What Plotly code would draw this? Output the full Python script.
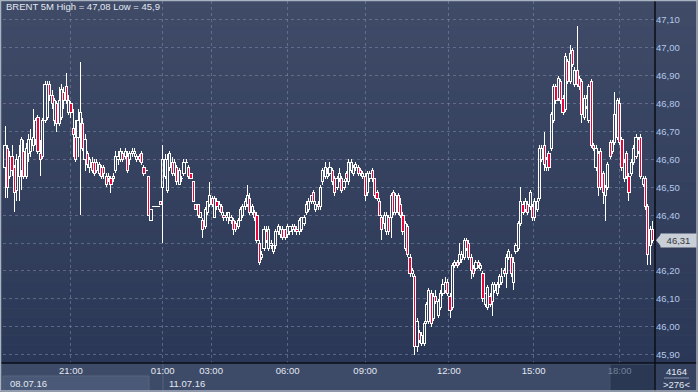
import plotly.graph_objects as go

# ---------------- data ----------------
open_ = [
    46.57, 46.64, 46.54, 46.61, 46.57, 46.49, 46.54, 46.56, 46.63, 46.54,
    46.62, 46.63, 46.65, 46.67, 46.75, 46.62, 46.61, 46.74, 46.75, 46.87,
    46.83, 46.74, 46.80, 46.73, 46.75, 46.84, 46.86, 46.77, 46.80, 46.71,
    46.68, 46.68, 46.73, 46.73, 46.60, 46.62, 46.57, 46.59, 46.59, 46.56,
    46.55, 46.57, 46.57, 46.54, 46.53, 46.53, 46.53, 46.56, 46.60, 46.60,
    46.62, 46.61, 46.61, 46.60, 46.62, 46.62, 46.60, 46.61, 46.62, 46.57,
    46.56, 46.54, 46.38, 46.43, 46.43, 46.43, 46.45, 46.50, 46.54, 46.49,
    46.57, 46.59, 46.55, 46.57, 46.51, 46.53, 46.55, 46.59, 46.57, 46.55,
    46.52, 46.44, 46.44, 46.39, 46.38, 46.36, 46.41, 46.44, 46.46, 46.39,
    46.45, 46.42, 46.43, 46.40, 46.39, 46.39, 46.38, 46.38, 46.37, 46.36,
    46.38, 46.40, 46.43, 46.44, 46.46, 46.41, 46.41, 46.40, 46.30, 46.25,
    46.28, 46.34, 46.28, 46.29, 46.27, 46.29, 46.34, 46.33, 46.35, 46.35,
    46.33, 46.34, 46.35, 46.36, 46.35, 46.34, 46.35, 46.37, 46.41, 46.42,
    46.45, 46.48, 46.42, 46.44, 46.43, 46.52, 46.54, 46.54, 46.55, 46.56,
    46.53, 46.50, 46.53, 46.53, 46.50, 46.55, 46.52, 46.56, 46.55, 46.57,
    46.57, 46.56, 46.54, 46.54, 46.48, 46.53, 46.56, 46.53, 46.48, 46.45,
    46.39, 46.37, 46.34, 46.39, 46.39, 46.48, 46.41, 46.47, 46.44, 46.40,
    46.28, 46.36, 46.25, 46.19, 46.18, 45.93, 45.98, 45.94, 45.94, 46.02,
    46.02, 46.12, 46.03, 46.11, 46.04, 46.07, 46.12, 46.13, 46.16, 46.11,
    46.07, 46.22, 46.23, 46.23, 46.24, 46.25, 46.31, 46.30, 46.25, 46.21,
    46.21, 46.23, 46.21, 46.19, 46.08, 46.07, 46.11, 46.09, 46.13, 46.12,
    46.15, 46.16, 46.20, 46.19, 46.25, 46.25, 46.16, 46.27, 46.28, 46.37,
    46.44, 46.42, 46.44, 46.43, 46.43, 46.39, 46.42, 46.46, 46.60, 46.65,
    46.57, 46.62, 46.64, 46.74, 46.86, 46.82, 46.88, 46.82, 46.78, 46.95,
    46.88, 46.99, 46.87, 46.92, 46.89, 46.88, 46.75, 46.79, 46.74, 46.88,
    46.65, 46.57, 46.62, 46.63, 46.55, 46.47, 46.50, 46.66, 46.63, 46.66,
    46.68, 46.80, 46.67, 46.53, 46.62, 46.54, 46.55, 46.59, 46.61, 46.67,
    46.68, 46.51, 46.53, 46.43, 46.29, 46.35,
]
high = [
    46.72, 46.65, 46.63, 46.65, 46.58, 46.62, 46.65, 46.68, 46.67, 46.66,
    46.69, 46.71, 46.78, 46.75, 46.76, 46.67, 46.75, 46.88, 46.88, 46.88,
    46.85, 46.82, 46.81, 46.86, 46.87, 46.86, 46.91, 46.83, 46.81, 46.78,
    46.74, 46.78, 46.95, 46.75, 46.69, 46.63, 46.61, 46.61, 46.60, 46.60,
    46.59, 46.58, 46.58, 46.55, 46.55, 46.54, 46.55, 46.63, 46.63, 46.64,
    46.63, 46.64, 46.63, 46.63, 46.64, 46.64, 46.62, 46.62, 46.63, 46.58,
    46.56, 46.54, 46.42, 46.43, 46.43, 46.43, 46.45, 46.65, 46.62, 46.62,
    46.63, 46.61, 46.60, 46.58, 46.57, 46.54, 46.60, 46.60, 46.58, 46.55,
    46.52, 46.44, 46.44, 46.41, 46.39, 46.43, 46.45, 46.52, 46.47, 46.47,
    46.46, 46.45, 46.44, 46.41, 46.41, 46.41, 46.40, 46.39, 46.38, 46.39,
    46.43, 46.44, 46.46, 46.51, 46.48, 46.44, 46.42, 46.41, 46.31, 46.27,
    46.36, 46.36, 46.36, 46.31, 46.29, 46.35, 46.37, 46.36, 46.36, 46.35,
    46.37, 46.36, 46.37, 46.37, 46.36, 46.39, 46.39, 46.40, 46.45, 46.46,
    46.47, 46.49, 46.45, 46.45, 46.51, 46.57, 46.59, 46.57, 46.59, 46.57,
    46.54, 46.54, 46.57, 46.54, 46.53, 46.56, 46.60, 46.60, 46.58, 46.59,
    46.58, 46.57, 46.56, 46.55, 46.56, 46.56, 46.57, 46.53, 46.49, 46.46,
    46.40, 46.41, 46.41, 46.40, 46.48, 46.49, 46.48, 46.48, 46.46, 46.41,
    46.38, 46.37, 46.26, 46.21, 46.19, 46.03, 45.99, 45.98, 46.02, 46.09,
    46.14, 46.13, 46.12, 46.13, 46.10, 46.13, 46.17, 46.18, 46.17, 46.12,
    46.23, 46.24, 46.24, 46.30, 46.27, 46.32, 46.32, 46.31, 46.26, 46.22,
    46.24, 46.24, 46.23, 46.20, 46.12, 46.15, 46.12, 46.16, 46.16, 46.16,
    46.19, 46.21, 46.21, 46.26, 46.28, 46.26, 46.25, 46.30, 46.38, 46.50,
    46.45, 46.46, 46.45, 46.49, 46.44, 46.46, 46.46, 46.65, 46.65, 46.70,
    46.61, 46.63, 46.77, 46.87, 46.87, 46.90, 46.89, 46.83, 46.98, 46.96,
    47.01, 47.00, 46.93, 47.08, 46.90, 46.89, 46.83, 46.83, 46.87, 46.89,
    46.66, 46.65, 46.63, 46.64, 46.56, 46.51, 46.59, 46.67, 46.67, 46.84,
    46.82, 46.82, 46.68, 46.60, 46.63, 46.55, 46.60, 46.65, 46.69, 46.68,
    46.69, 46.54, 46.54, 46.44, 46.36, 46.38,
]
low = [
    46.46, 46.46, 46.53, 46.54, 46.41, 46.45, 46.45, 46.49, 46.53, 46.53,
    46.59, 46.61, 46.63, 46.65, 46.62, 46.54, 46.60, 46.73, 46.74, 46.81,
    46.78, 46.72, 46.70, 46.72, 46.74, 46.78, 46.80, 46.76, 46.75, 46.61,
    46.59, 46.61, 46.40, 46.63, 46.56, 46.57, 46.55, 46.55, 46.54, 46.55,
    46.54, 46.53, 46.53, 46.50, 46.52, 46.48, 46.52, 46.55, 46.58, 46.59,
    46.59, 46.60, 46.55, 46.58, 46.61, 46.61, 46.59, 46.59, 46.58, 46.54,
    46.56, 46.40, 46.38, 46.43, 46.43, 46.43, 46.44, 46.30, 46.53, 46.48,
    46.56, 46.54, 46.54, 46.51, 46.51, 46.52, 46.54, 46.59, 46.53, 46.53,
    46.45, 46.42, 46.39, 46.39, 46.32, 46.35, 46.40, 46.43, 46.43, 46.39,
    46.42, 46.41, 46.40, 46.38, 46.38, 46.37, 46.37, 46.33, 46.34, 46.35,
    46.38, 46.39, 46.42, 46.43, 46.40, 46.40, 46.38, 46.30, 46.22, 46.24,
    46.27, 46.30, 46.27, 46.28, 46.26, 46.28, 46.33, 46.32, 46.31, 46.31,
    46.32, 46.33, 46.33, 46.34, 46.33, 46.33, 46.34, 46.36, 46.40, 46.41,
    46.44, 46.44, 46.41, 46.42, 46.42, 46.51, 46.53, 46.53, 46.54, 46.51,
    46.47, 46.49, 46.52, 46.48, 46.49, 46.52, 46.51, 46.55, 46.54, 46.56,
    46.54, 46.54, 46.53, 46.45, 46.47, 46.52, 46.52, 46.46, 46.45, 46.40,
    46.31, 46.35, 46.33, 46.33, 46.32, 46.40, 46.40, 46.40, 46.39, 46.33,
    46.27, 46.25, 46.18, 46.18, 45.90, 45.91, 45.94, 45.93, 45.93, 46.01,
    46.01, 46.00, 46.02, 46.08, 46.03, 46.06, 46.11, 46.12, 46.11, 46.03,
    46.06, 46.21, 46.21, 46.22, 46.23, 46.24, 46.27, 46.24, 46.17, 46.18,
    46.20, 46.21, 46.20, 46.09, 46.07, 46.06, 46.07, 46.04, 46.12, 46.11,
    46.14, 46.15, 46.18, 46.14, 46.24, 46.18, 46.13, 46.26, 46.27, 46.36,
    46.40, 46.41, 46.40, 46.42, 46.38, 46.38, 46.41, 46.45, 46.59, 46.56,
    46.56, 46.56, 46.63, 46.73, 46.80, 46.81, 46.80, 46.76, 46.77, 46.87,
    46.87, 46.93, 46.86, 46.86, 46.85, 46.73, 46.74, 46.78, 46.73, 46.64,
    46.63, 46.56, 46.47, 46.49, 46.44, 46.38, 46.49, 46.60, 46.62, 46.65,
    46.67, 46.65, 46.56, 46.52, 46.53, 46.45, 46.54, 46.58, 46.60, 46.62,
    46.53, 46.50, 46.42, 46.22, 46.22, 46.30,
]
close = [
    46.65, 46.50, 46.61, 46.56, 46.48, 46.60, 46.61, 46.67, 46.54, 46.64,
    46.67, 46.67, 46.68, 46.74, 46.63, 46.60, 46.74, 46.87, 46.87, 46.83,
    46.80, 46.81, 46.73, 46.81, 46.85, 46.81, 46.81, 46.81, 46.77, 46.69,
    46.60, 46.74, 46.77, 46.64, 46.67, 46.58, 46.60, 46.56, 46.55, 46.59,
    46.58, 46.54, 46.55, 46.51, 46.54, 46.51, 46.54, 46.61, 46.61, 46.63,
    46.60, 46.63, 46.56, 46.62, 46.63, 46.63, 46.61, 46.60, 46.59, 46.55,
    46.56, 46.40, 46.42, 46.43, 46.43, 46.43, 46.44, 46.60, 46.60, 46.60,
    46.62, 46.55, 46.59, 46.52, 46.56, 46.53, 46.59, 46.59, 46.54, 46.53,
    46.45, 46.42, 46.40, 46.41, 46.35, 46.42, 46.45, 46.47, 46.44, 46.46,
    46.43, 46.44, 46.41, 46.39, 46.40, 46.41, 46.39, 46.35, 46.35, 46.38,
    46.42, 46.43, 46.45, 46.47, 46.41, 46.43, 46.39, 46.31, 46.23, 46.26,
    46.35, 46.31, 46.35, 46.30, 46.29, 46.34, 46.36, 46.35, 46.32, 46.32,
    46.36, 46.36, 46.36, 46.35, 46.34, 46.38, 46.39, 46.39, 46.44, 46.45,
    46.47, 46.45, 46.44, 46.43, 46.50, 46.56, 46.57, 46.55, 46.57, 46.52,
    46.48, 46.53, 46.55, 46.49, 46.52, 46.53, 46.59, 46.59, 46.57, 46.58,
    46.55, 46.55, 46.55, 46.47, 46.55, 46.55, 46.53, 46.47, 46.46, 46.40,
    46.35, 46.40, 46.40, 46.34, 46.47, 46.41, 46.47, 46.41, 46.40, 46.34,
    46.37, 46.26, 46.19, 46.20, 45.93, 46.02, 45.95, 45.97, 46.01, 46.08,
    46.13, 46.01, 46.11, 46.09, 46.09, 46.12, 46.15, 46.16, 46.12, 46.06,
    46.22, 46.23, 46.22, 46.26, 46.26, 46.31, 46.28, 46.25, 46.20, 46.19,
    46.23, 46.22, 46.22, 46.10, 46.12, 46.14, 46.08, 46.15, 46.15, 46.15,
    46.18, 46.18, 46.19, 46.25, 46.27, 46.19, 46.23, 46.29, 46.37, 46.45,
    46.41, 46.45, 46.41, 46.48, 46.39, 46.45, 46.45, 46.64, 46.64, 46.58,
    46.60, 46.57, 46.76, 46.86, 46.81, 46.89, 46.81, 46.77, 46.97, 46.88,
    46.98, 46.94, 46.92, 46.87, 46.86, 46.76, 46.82, 46.82, 46.86, 46.65,
    46.64, 46.64, 46.50, 46.50, 46.48, 46.50, 46.58, 46.61, 46.66, 46.76,
    46.81, 46.66, 46.57, 46.59, 46.54, 46.48, 46.59, 46.64, 46.68, 46.63,
    46.54, 46.53, 46.43, 46.26, 46.35, 46.31,
]

# bar index where each time label sits, and the labels themselves
time_tick_bars = [28, 67, 87.5, 120, 153, 188.5, 224.5, 261]
time_tick_labels = ["21:00", "01:00", "03:00", "06:00", "09:00", "12:00", "15:00", "18:00"]
price_ticks = [45.9, 46.0, 46.1, 46.2, 46.3, 46.4, 46.5, 46.6, 46.7, 46.8, 46.9, 47.0, 47.1]
date_labels = ["08.07.16", "11.07.16"]
symbol = "BRENT 5M"
counter_top = "4164"
counter_bottom = ">276<"

# ---------------- layout helpers ----------------
W, H = 698, 392
ML, MR, MT, MB = 3, 43, 1, 29
PW, PH = W - ML - MR, H - MT - MB
Y0, Y1 = 45.870, 47.168
UP_FILL = "rgba(0,0,0,0)"
DOWN_FILL = "#e6053d"
EDGE = "#ffffff"
FS = 9.5


def px_x(px):
    return (px - ML) / PW


def px_y(py):
    return (H - MB - py) / PH


def fmt(v, nd=None):
    s = f"{v:.{nd}f}" if nd is not None else f"{v:g}"
    return s.replace(".", ",")


n = len(close)
xs = list(range(n))
last = close[-1]

# candle bodies (bars from min(open, close) to max(open, close)) and wicks
min_body = 0.0004  # keeps doji bodies visible as a flat dash
body_base = [min(o, c) for o, c in zip(open_, close)]
body_len = [max(abs(c - o), min_body) for o, c in zip(open_, close)]
body_fill = [DOWN_FILL if c < o else UP_FILL for o, c in zip(open_, close)]
wick_x, wick_y = [], []
for i, (o, h, l, c) in enumerate(zip(open_, high, low, close)):
    top, bot = max(o, c), min(o, c)
    if h > top:
        wick_x += [i, i, None]
        wick_y += [top, h, None]
    if l < bot:
        wick_x += [i, i, None]
        wick_y += [l, bot, None]

fig = go.Figure()
fig.add_trace(go.Bar(
    x=xs, base=body_base, y=body_len, width=0.92,
    marker=dict(color=body_fill, line=dict(color=EDGE, width=1)),
    hoverinfo="skip", showlegend=False,
))
fig.add_trace(go.Scatter(
    x=wick_x, y=wick_y, mode="lines", line=dict(color=EDGE, width=1),
    hoverinfo="skip", showlegend=False, connectgaps=False,
))

shapes = []
# vertical gradient background (plot + price-axis area)
NB = 40
top_c = (63, 75, 103)
bot_c = (42, 55, 86)
for k in range(NB):
    y0p = (H - MB) * k / NB
    y1p = (H - MB) * (k + 1) / NB
    t = (k + 0.5) / NB
    c = tuple(round(top_c[j] + (bot_c[j] - top_c[j]) * t) for j in range(3))
    shapes.append(dict(type="rect", xref="paper", yref="paper",
                       x0=px_x(0), x1=px_x(W), y0=px_y(y1p), y1=px_y(y0p) + 0.0001,
                       fillcolor=f"rgb{c}", line=dict(width=0), layer="below"))
# dark box under the last time label
shapes.append(dict(type="rect", xref="paper", yref="paper",
                   x0=px_x(610), x1=px_x(655), y0=px_y(392), y1=px_y(364),
                   fillcolor="#2b3853", line=dict(color="#45536e", width=1), layer="below"))
# date box
shapes.append(dict(type="rect", xref="paper", yref="paper",
                   x0=px_x(3), x1=px_x(149), y0=px_y(391), y1=px_y(376),
                   fillcolor="#4a5977", line=dict(color="#56657f", width=1), layer="below"))
# day separator in the time strip
shapes.append(dict(type="line", xref="paper", yref="paper",
                   x0=px_x(163), x1=px_x(163), y0=px_y(392), y1=px_y(364),
                   line=dict(color="#56657f", width=1), layer="below"))
# price-axis lower-right box
shapes.append(dict(type="rect", xref="paper", yref="paper",
                   x0=px_x(656), x1=px_x(698), y0=px_y(392), y1=px_y(364),
                   fillcolor="#34415f", line=dict(width=0), layer="below"))
shapes.append(dict(type="line", xref="paper", yref="paper",
                   x0=px_x(664), x1=px_x(689), y0=px_y(378), y1=px_y(378),
                   line=dict(color="#8d9ab2", width=1)))
# black separators
shapes.append(dict(type="line", xref="paper", yref="paper",
                   x0=px_x(0), x1=px_x(W), y0=0, y1=0,
                   line=dict(color="#0a0e16", width=1.5)))
shapes.append(dict(type="line", xref="paper", yref="paper",
                   x0=1, x1=1, y0=px_y(H), y1=px_y(0),
                   line=dict(color="#0a0e16", width=1.5)))
# outer frame
shapes.append(dict(type="rect", xref="paper", yref="paper",
                   x0=px_x(0.5), x1=px_x(W - 1), y0=px_y(H - 1), y1=px_y(0.5),
                   line=dict(color="#a9b2c0", width=1.5)))
# last price pointer
dp = 6 / (PH / (Y1 - Y0))
shapes.append(dict(type="path", xref="paper", yref="y",
                   path=f"M {px_x(656)},{last} L {px_x(661)},{last + dp} L {px_x(661)},{last - dp} Z",
                   fillcolor="#c9ced7", line=dict(width=0)))

font_family = "Liberation Sans, Arial, sans-serif"
txt_font = dict(size=FS, color="#e2e8f2", family=font_family)
annotations = [
    dict(xref="paper", yref="paper", x=px_x(4), y=px_y(7), xanchor="left", yanchor="middle",
         text=f"{symbol} High = {fmt(max(high))} Low = {fmt(min(low))}",
         showarrow=False, font=txt_font),
    dict(xref="paper", yref="paper", x=px_x(8), y=px_y(383), xanchor="left", yanchor="middle",
         text=date_labels[0], showarrow=False, font=txt_font),
    dict(xref="paper", yref="paper", x=px_x(167), y=px_y(383), xanchor="left", yanchor="middle",
         text=date_labels[1], showarrow=False, font=txt_font),
    dict(xref="paper", yref="paper", x=px_x(676), y=px_y(371), xanchor="center", yanchor="middle",
         text=counter_top, showarrow=False, font=txt_font),
    dict(xref="paper", yref="paper", x=px_x(676), y=px_y(384), xanchor="center", yanchor="middle",
         text=counter_bottom, showarrow=False, font=txt_font),
    dict(xref="paper", yref="y", x=px_x(660), y=last, xanchor="left", yanchor="middle",
         text=fmt(last, 2), showarrow=False, bgcolor="#c9ced7", borderpad=1, width=33,
         font=dict(size=FS, color="#333740", family=font_family)),
]

ticktext_x = [t if t != "18:00" else "<span style='color:#74819a'>18:00</span>" for t in time_tick_labels]
# the price tag of the last close covers the nearest price label
ticktext_y = ["" if abs(v - last) < 0.05 else fmt(v, 2) for v in price_ticks]

fig.update_layout(
    width=W, height=H,
    margin=dict(l=ML, r=MR, t=MT, b=MB, pad=0),
    paper_bgcolor="#3e4b68",
    plot_bgcolor="rgba(0,0,0,0)",
    separators=", ",
    font=dict(family=font_family, size=FS, color="#e2e8f2"),
    showlegend=False,
    barmode="overlay",
    shapes=shapes,
    annotations=annotations,
    xaxis=dict(
        range=[-0.85, 276.05], tickvals=time_tick_bars, ticktext=ticktext_x,
        showgrid=True, gridcolor="rgba(125,140,172,0.55)", griddash="3px,3px", gridwidth=1,
        zeroline=False, showline=False, ticks="",
        tickfont=dict(size=FS, color="#e2e8f2"), fixedrange=True,
    ),
    yaxis=dict(
        side="right", range=[Y0, Y1], tickvals=price_ticks, ticktext=ticktext_y,
        showgrid=True, gridcolor="rgba(125,140,172,0.55)", griddash="3px,3px", gridwidth=1,
        zeroline=False, showline=False, ticks="",
        tickfont=dict(size=FS, color="#b3c8ec"), fixedrange=True,
    ),
)

post = (
    "document.body.style.margin='0';"
    "document.querySelectorAll('.trace.bars path, .trace.scatter path.js-line').forEach(function(p){"
    "p.style.shapeRendering='crispEdges';});"
)
fig.write_html("out.html", config={"displayModeBar": False}, post_script=post)
